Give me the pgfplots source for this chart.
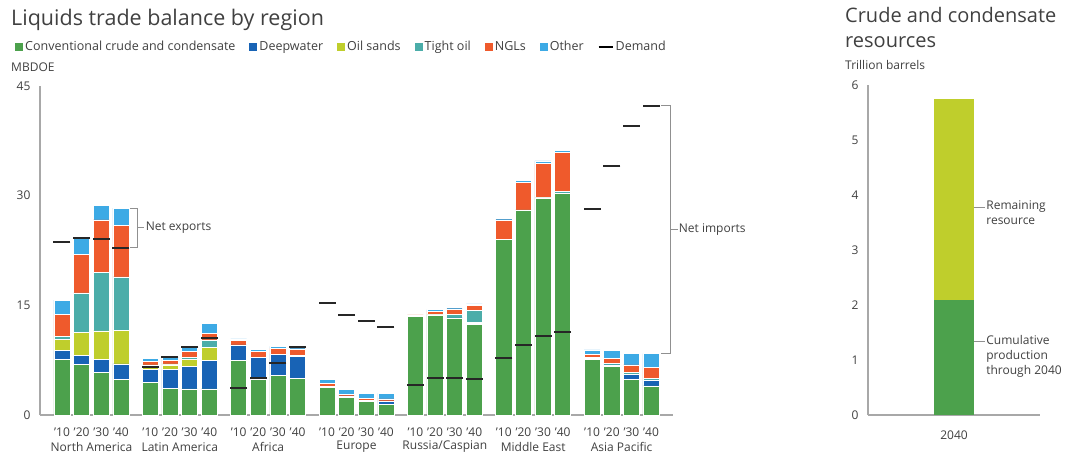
\documentclass[border=0pt]{standalone}
\usepackage{fontspec}
\setmainfont{Open Sans}
\usepackage{pgfplots}
\pgfplotsset{compat=1.18}
\usepackage{pgfplotstable}
\definecolor{cG}{HTML}{4CA14C}
\definecolor{cDW}{HTML}{1863B5}
\definecolor{cOS}{HTML}{BFCE2C}
\definecolor{cTO}{HTML}{4BADA9}
\definecolor{cNGL}{HTML}{EF5A2C}
\definecolor{cO}{HTML}{3DAAE5}
\definecolor{txt}{HTML}{404040}
\definecolor{axl}{HTML}{A8A8A8}
\definecolor{brk}{HTML}{909090}

\pgfplotstableread{
x G DW OS TO NGL O D
0 7.66 1.14 1.55 0.45 3.0 1.9 23.6
1 6.93 1.23 3.19 5.35 5.3 2.25 24.2
2 5.84 1.82 3.84 8.0 7.2 2.0 24.1
3 4.92 2.08 4.6 7.3 7.0 2.4 22.9
4.5 4.5 1.7 0.55 0.1 0.45 0.45 6.5
5.5 3.65 2.6 0.59 0.14 0.45 0.5 8.0
6.5 3.56 3.14 0.9 0.3 0.76 0.82 9.35
7.5 3.56 3.87 1.83 1.0 0.94 1.3 10.5
9 7.43 2.15 0 0 0.62 0.2 3.65
10 4.88 2.96 0 0 0.82 0.27 5.1
11 5.38 2.96 0 0 0.78 0.28 7.07
12 5.02 3.01 0 0.1 0.9 0.27 9.26
13.5 3.8 0.1 0 0 0.43 0.55 15.3
14.5 2.42 0.18 0 0 0.27 0.59 13.7
15.5 1.82 0.23 0 0 0.23 0.63 12.8
16.5 1.5 0.42 0 0 0.27 0.78 12.0
18 13.45 0 0 0 0.25 0.05 4.1
19 13.7 0 0 0.05 0.45 0.2 5.0
20 13.2 0.1 0 0.5 0.7 0.2 5.06
21 12.35 0.15 0.2 1.66 0.64 0.2 4.92
22.5 24.0 0 0 0 2.7 0.15 7.75
23.5 27.95 0 0 0.1 3.75 0.3 9.58
24.5 29.7 0 0 0.05 4.65 0.35 10.85
25.5 30.3 0 0 0.25 5.35 0.3 11.3
27 7.66 0.1 0 0.1 0.44 0.6 28.2
28 6.61 0.23 0 0.23 0.68 1.05 34.06
29 4.92 0.64 0 0.32 0.96 1.55 39.5
30 3.97 0.72 0 0.33 1.45 1.92 42.3
}\liquids

\pgfplotsset{
  basestyle/.style={
    scale only axis,
    axis lines=left,
    axis line style={-, draw=axl, line width=1.2pt},
    tick style={draw=none},
    major tick length=0pt,
    /pgf/number format/assume math mode=true,
    ticklabel style={font=\fontsize{12}{14}\selectfont, text=txt},
    clip=false,
  },
  leftbox/.style={
    at={(40pt,41pt)}, anchor=south west,
    width=633pt, height=329pt,
    xmin=-1.12, xmax=31.12, ymin=0, ymax=45,
  },
}
\tikzset{
  regionlabel/.style={font=\fontsize{12}{14}\selectfont, text=txt, yshift=-32pt},
  annot/.style={anchor=west, inner sep=1pt, text=txt, font=\fontsize{12}{14}\selectfont},
  annot2/.style={anchor=north west, yshift=8pt, inner sep=1pt, align=left, text=txt, font=\fontsize{12}{15}\selectfont},
}

\begin{document}
\begin{tikzpicture}
\path[use as bounding box] (0pt,0pt) rectangle (1068pt,456pt);

\begin{axis}[
  basestyle, leftbox,
  ybar stacked, bar width=0.82, bar shift=0pt,
  ytick={0,15,30,45},
  yticklabel style={xshift=-6pt},
  xtick={0,1,2,3,4.5,5.5,6.5,7.5,9,10,11,12,13.5,14.5,15.5,16.5,18,19,20,21,22.5,23.5,24.5,25.5,27,28,29,30},
  xticklabels={'10,'20,'30,'40,'10,'20,'30,'40,'10,'20,'30,'40,'10,'20,'30,'40,'10,'20,'30,'40,'10,'20,'30,'40,'10,'20,'30,'40},
  xticklabel style={yshift=-9pt},
  legend style={at={(-0.0395,1.1185)}, anchor=west, draw=none, fill=none,
    legend columns=-1, font=\fontsize{12.5}{14}\selectfont, text=txt, inner sep=0pt,
    nodes={text height=9pt, text depth=3pt},
    /tikz/every even column/.append style={column sep=12pt}},
  legend image code/.code={\fill[#1,draw=none] (0pt,-4pt) rectangle (8pt,4pt);},
  every axis plot/.append style={draw=white, line width=0.5pt},
]
\addplot[fill=cG] table[x=x,y=G]{\liquids};
\addlegendentry{Conventional crude and condensate}
\addplot[fill=cDW] table[x=x,y=DW]{\liquids};
\addlegendentry{Deepwater}
\addplot[fill=cOS] table[x=x,y=OS]{\liquids};
\addlegendentry{Oil sands}
\addplot[fill=cTO] table[x=x,y=TO]{\liquids};
\addlegendentry{Tight oil}
\addplot[fill=cNGL] table[x=x,y=NGL]{\liquids};
\addlegendentry{NGLs}
\addplot[fill=cO] table[x=x,y=O]{\liquids};
\addlegendentry{Other}
\addlegendimage{legend image code/.code={\draw[line width=2pt,black] (0pt,0pt) -- (14pt,0pt);}}
\addlegendentry{Demand}

\node[regionlabel] at (axis cs:1.5,0) {North America};
\node[regionlabel] at (axis cs:6,0) {Latin America};
\node[regionlabel] at (axis cs:10.5,0) {Africa};
\node[regionlabel] at (axis cs:15,0) {Europe};
\node[regionlabel] at (axis cs:19.5,0) {Russia/Caspian};
\node[regionlabel] at (axis cs:24,0) {Middle East};
\node[regionlabel] at (axis cs:28.5,0) {Asia Pacific};
% brackets
\draw[brk, line width=0.8pt] (axis cs:3.45,28.3) -- (axis cs:3.85,28.3) -- (axis cs:3.85,22.9) -- (axis cs:3.45,22.9);
\draw[brk, line width=0.8pt] (axis cs:3.85,25.6) -- (axis cs:4.2,25.6) node[annot] {Net exports};
\draw[brk, line width=0.8pt] (axis cs:30.5,42.3) -- (axis cs:31.0,42.3) -- (axis cs:31.0,8.39) -- (axis cs:30.5,8.39);
\draw[brk, line width=0.8pt] (axis cs:31.0,25.35) -- (axis cs:31.35,25.35) node[annot] {Net imports};
\end{axis}

\begin{axis}[
  leftbox, scale only axis, hide axis, clip=false,
]
\addplot[only marks, mark=-, mark size=8.5pt, mark options={line width=2pt, draw=black!85}] table[x=x,y=D]{\liquids};
\end{axis}

\begin{axis}[
  basestyle,
  at={(868pt,41pt)}, anchor=south west,
  width=172pt, height=330pt,
  xmin=-1, xmax=1, ymin=0, ymax=6,
  ybar stacked, bar width=0.465, bar shift=0pt,
  ytick={0,1,2,3,4,5,6},
  yticklabel style={xshift=-6pt},
  xtick={0}, xticklabels={2040},
  xticklabel style={yshift=-12pt},
]
\addplot[fill=cG, draw=none] coordinates {(0,2.09)};
\addplot[fill=cOS, draw=none] coordinates {(0,3.66)};
\draw[brk, line width=0.8pt] (axis cs:0.233,3.78) -- (axis cs:0.36,3.78) node[annot2] {Remaining\\resource};
\draw[brk, line width=0.8pt] (axis cs:0.233,1.33) -- (axis cs:0.36,1.33) node[annot2] {Cumulative\\production\\through 2040};
\end{axis}

% titles
\node[anchor=west, inner sep=0pt, text=txt, font=\fontsize{21.5}{24}\selectfont] at (11pt,436pt) {Liquids trade balance by region};
\node[anchor=west, inner sep=0pt, text=txt, font=\fontsize{12}{14}\selectfont] at (11pt,389pt) {MBDOE};
\node[anchor=west, inner sep=0pt, text=txt, font=\fontsize{20}{24}\selectfont] at (845pt,441pt) {Crude and condensate};
\node[anchor=west, inner sep=0pt, text=txt, font=\fontsize{20}{24}\selectfont] at (845pt,414pt) {resources};
\node[anchor=west, inner sep=0pt, text=txt, font=\fontsize{12}{14}\selectfont] at (845pt,391pt) {Trillion barrels};
\end{tikzpicture}
\end{document}
